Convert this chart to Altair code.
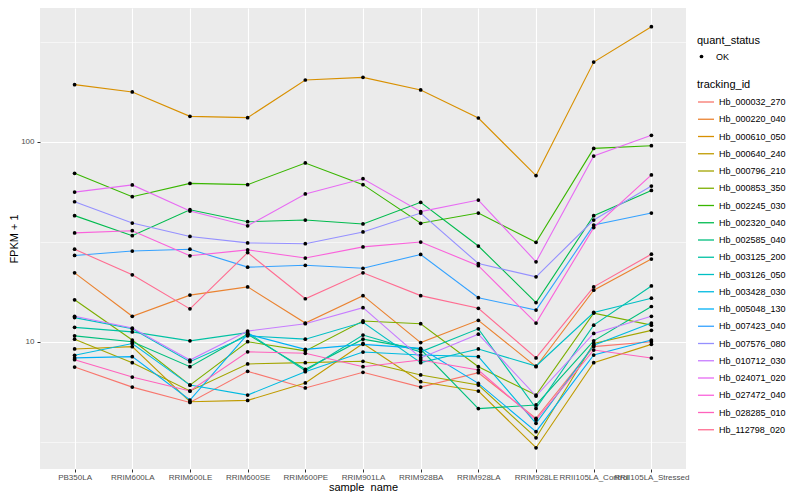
import altair as alt
import pandas as pd

samples = ["PB350LA", "RRIM600LA", "RRIM600LE", "RRIM600SE", "RRIM600PE", "RRIM901LA",
           "RRIM928BA", "RRIM928LA", "RRIM928LE", "RRII105LA_Control", "RRII105LA_Stressed"]

Hb_000032_270 = [7.47, 5.93, 4.97, 7.11, 5.87, 7.03, 5.93, 7.00, 4.14, 9.45, 10.0]
Hb_000220_040 = [22.1, 13.4, 17.1, 18.8, 12.4, 17.0, 9.9, 12.8, 7.5, 18.1, 25.9]
Hb_000610_050 = [192.9, 177.3, 133.9, 131.9, 203.5, 209.8, 181.4, 131.4, 67.7, 250.3, 376.0]
Hb_000640_240 = [9.2, 9.45, 5.01, 5.09, 6.22, 9.8, 6.31, 5.67, 2.95, 7.86, 9.7]
Hb_000796_210 = [10.3, 7.86, 5.67, 7.74, 7.86, 7.98, 6.82, 6.07, 3.31, 9.8, 11.4]
Hb_000853_350 = [16.2, 10.2, 6.07, 10.0, 9.0, 12.7, 12.3, 7.5, 5.41, 13.9, 12.1]
Hb_002245_030 = [69.5, 53.1, 61.9, 61.0, 78.3, 61.0, 39.1, 44.0, 31.4, 92.6, 95.5]
Hb_002320_040 = [42.7, 33.9, 45.7, 39.8, 40.6, 38.8, 49.8, 30.1, 15.7, 42.7, 57.1]
Hb_002585_040 = [10.7, 10.0, 7.5, 10.9, 7.28, 10.3, 9.16, 4.63, 4.83, 10.1, 15.0]
Hb_003125_200 = [11.8, 11.2, 10.1, 11.1, 7.16, 10.8, 8.9, 11.6, 4.64, 12.1, 19.0]
Hb_003126_050 = [13.2, 11.6, 7.95, 10.7, 10.3, 12.5, 7.86, 9.2, 7.56, 14.0, 16.5]
Hb_003428_030 = [8.55, 9.8, 6.07, 5.41, 7.08, 8.88, 8.58, 8.42, 3.91, 9.6, 12.4]
Hb_005048_130 = [8.3, 8.42, 5.11, 10.9, 9.16, 9.7, 9.26, 6.19, 3.55, 8.58, 10.2]
Hb_007423_040 = [27.0, 28.4, 29.0, 23.6, 24.1, 23.3, 27.3, 16.6, 14.4, 38.3, 44.0]
Hb_007576_080 = [50.1, 39.2, 33.6, 31.2, 30.9, 35.4, 44.0, 24.6, 21.1, 40.6, 60.0]
Hb_010712_030 = [13.4, 11.7, 8.1, 11.3, 12.3, 14.8, 8.3, 10.9, 5.35, 11.0, 13.4]
Hb_024071_020 = [56.0, 60.8, 45.0, 38.0, 54.8, 65.3, 44.7, 51.1, 25.1, 84.8, 107.6]
Hb_027472_040 = [35.0, 35.9, 26.9, 28.8, 26.2, 29.8, 31.5, 24.0, 12.4, 37.2, 68.2]
Hb_028285_010 = [8.13, 6.66, 5.67, 8.9, 8.75, 7.5, 8.1, 7.22, 4.06, 9.09, 8.29]
Hb_112798_020 = [29.0, 21.6, 14.6, 27.9, 16.4, 22.1, 17.0, 14.7, 8.3, 18.8, 27.4]

tracking_ids = ["Hb_000032_270", "Hb_000220_040", "Hb_000610_050", "Hb_000640_240",
                "Hb_000796_210", "Hb_000853_350", "Hb_002245_030", "Hb_002320_040",
                "Hb_002585_040", "Hb_003125_200", "Hb_003126_050", "Hb_003428_030",
                "Hb_005048_130", "Hb_007423_040", "Hb_007576_080", "Hb_010712_030",
                "Hb_024071_020", "Hb_027472_040", "Hb_028285_010", "Hb_112798_020"]
series = [Hb_000032_270, Hb_000220_040, Hb_000610_050, Hb_000640_240, Hb_000796_210,
          Hb_000853_350, Hb_002245_030, Hb_002320_040, Hb_002585_040, Hb_003125_200,
          Hb_003126_050, Hb_003428_030, Hb_005048_130, Hb_007423_040, Hb_007576_080,
          Hb_010712_030, Hb_024071_020, Hb_027472_040, Hb_028285_010, Hb_112798_020]
palette = ["#F8766D", "#EA8331", "#D89000", "#C09B00", "#A3A500", "#7CAE00", "#39B600",
           "#00BB4E", "#00BF7D", "#00C1A3", "#00BFC4", "#00BAE0", "#00B0F6", "#35A2FF",
           "#9590FF", "#C77CFF", "#E76BF3", "#FA62DB", "#FF62BC", "#FF6C91"]
y_ticks = [3.1623, 10, 31.623, 100, 316.23]
y_domain = [2.31, 466.2]

rows = []
for tid, vals in zip(tracking_ids, series):
    for s, v in zip(samples, vals):
        rows.append({"tracking_id": tid, "sample_name": s, "fpkm1": v, "quant_status": "OK"})
df = pd.DataFrame(rows)

FONT = "Liberation Sans"
major_test = "datum.value == 10 || datum.value == 100"

x_enc = alt.X("sample_name:N", sort=samples, title="sample_name",
              scale=alt.Scale(type="point", padding=0.6),
              axis=alt.Axis(labelAngle=0, labelOverlap=False, grid=True, gridColor="white",
                            gridWidth=1.1, titlePadding=0, labelPadding=1))
y_enc = alt.Y("fpkm1:Q", title="FPKM + 1",
              scale=alt.Scale(type="log", domain=y_domain, nice=False),
              axis=alt.Axis(values=y_ticks, grid=True, gridColor="white",
                            gridWidth={"condition": {"test": major_test, "value": 1.1}, "value": 0.55},
                            tickOpacity={"condition": {"test": major_test, "value": 1}, "value": 0},
                            format=".0f",
                            labelExpr="(" + major_test + ") ? datum.label : ''",
                            titlePadding=1, labelPadding=3))

lines = alt.Chart(df).mark_line(strokeWidth=1.1).encode(
    x=x_enc, y=y_enc,
    color=alt.Color("tracking_id:N", scale=alt.Scale(domain=tracking_ids, range=palette),
                    legend=alt.Legend(title="tracking_id", orient="none", legendX=657, legendY=71,
                                      symbolType="stroke", symbolSize=256, symbolStrokeWidth=1.3,
                                      rowPadding=3.25, titlePadding=3, labelFontSize=9,
                                      titleFontSize=11, padding=0)),
    detail="tracking_id:N",
)
points = alt.Chart(df).mark_point(filled=True, size=14, opacity=1, color="black").encode(
    x=x_enc, y=y_enc,
    shape=alt.Shape("quant_status:N", scale=alt.Scale(range=["circle"]),
                    legend=alt.Legend(title="quant_status", orient="none", legendX=657, legendY=27,
                                      symbolFillColor="black", symbolStrokeColor="black",
                                      symbolSize=14, labelFontSize=9, titleFontSize=11,
                                      titlePadding=6, padding=0, labelOffset=10)),
)

chart = alt.layer(lines, points).properties(
    width=646, height=461,
    autosize=alt.AutoSizeParams(type="none"),
    padding={"left": 32, "top": 0, "right": 106, "bottom": 23},
).configure_view(fill="#EBEBEB", strokeWidth=0).configure_axis(
    domain=False, tickColor="#333333", tickSize=3, labelColor="#4D4D4D",
    labelFont=FONT, labelFontSize=8, titleFont=FONT, titleFontSize=11,
    titleFontWeight="normal", titleColor="black",
).configure_legend(
    labelFont=FONT, titleFont=FONT, titleFontWeight="normal", titleColor="black",
    labelColor="black",
)

chart.save("out.html", embed_options={"renderer": "svg", "actions": False})
